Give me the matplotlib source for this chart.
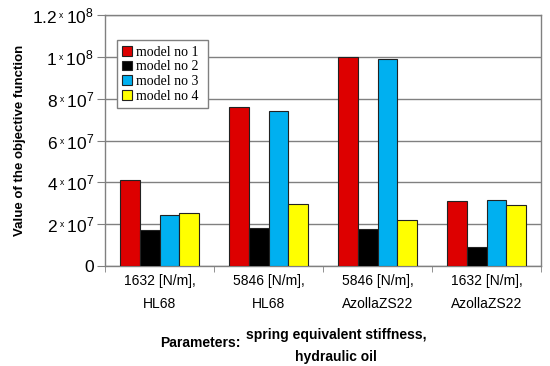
import numpy as np
import matplotlib
matplotlib.use("Agg")
import matplotlib.pyplot as plt

plt.rcParams['font.family'] = ['Liberation Sans', 'DejaVu Sans']
plt.rcParams['mathtext.fontset'] = 'custom'
plt.rcParams['mathtext.rm'] = 'Liberation Sans'
plt.rcParams['mathtext.it'] = 'Liberation Sans'

categories = ["1632 [N/m],\nHL68", "5846 [N/m],\nHL68",
              "5846 [N/m],\nAzollaZS22", "1632 [N/m],\nAzollaZS22"]
series_names = ["model no 1", "model no 2", "model no 3", "model no 4"]
model1 = [4.1e7, 7.6e7, 1.0e8, 3.1e7]
model2 = [1.7e7, 1.8e7, 1.75e7, 0.9e7]
model3 = [2.45e7, 7.4e7, 9.9e7, 3.15e7]
model4 = [2.55e7, 2.95e7, 2.2e7, 2.9e7]
yticks = [0, 2e7, 4e7, 6e7, 8e7, 1e8, 1.2e8]
ytick_labels = ["0",
                r"$\mathregular{2\,{}^{_{x}}\,10^{7}}$",
                r"$\mathregular{4\,{}^{_{x}}\,10^{7}}$",
                r"$\mathregular{6\,{}^{_{x}}\,10^{7}}$",
                r"$\mathregular{8\,{}^{_{x}}\,10^{7}}$",
                r"$\mathregular{1\,{}^{_{x}}\,10^{8}}$",
                r"$\mathregular{1.2\,{}^{_{x}}\,10^{8}}$"]
colors = ["#dd0000", "#000000", "#00b0f0", "#ffff00"]

fig = plt.figure(figsize=(5.5, 3.66), dpi=100)
ax = fig.add_axes([105/550, 1-266/366, 436/550, 251/366])

x = np.arange(len(categories))
w = 0.183
for i, vals in enumerate([model1, model2, model3, model4]):
    ax.bar(x + (i - 1.5) * w, vals, w, color=colors[i], edgecolor='#222222',
           linewidth=0.8, label=series_names[i] + " ", zorder=3)

ax.set_xlim(-0.5, 3.5)
ax.set_ylim(0, 1.2e8)
ax.set_yticks(yticks)
ax.set_yticklabels(ytick_labels, fontsize=12.5)
ax.set_xticks(x)
ax.set_xticklabels(categories, fontsize=10, linespacing=1.75)
ax.set_xticks(np.arange(-0.5, 4, 1), minor=True)
ax.tick_params(axis='x', which='major', length=0, pad=6)
ax.tick_params(axis='x', which='minor', length=4, color='#808080', direction='out')
ax.tick_params(axis='y', length=6, color='#808080', direction='out', pad=2)
ax.yaxis.grid(True, color='#808080', linewidth=1.0, zorder=0)
for s in ax.spines.values():
    s.set_color('#808080')
    s.set_linewidth(1.0)

ax.set_ylabel("Value of the objective function", fontsize=9.5, fontweight='bold')
ax.yaxis.set_label_coords(-0.181, 0.5)

leg = ax.legend(loc='upper left', bbox_to_anchor=(0.027, 0.9),
                prop={'family': 'Liberation Serif', 'size': 10},
                fancybox=False, framealpha=1, edgecolor='#808080',
                handlelength=0.7, handleheight=0.7, handletextpad=0.3,
                labelspacing=0.12, borderpad=0.4, borderaxespad=0)
leg.get_frame().set_linewidth(1.0)

fig.text(200/550, 1-343/366, "Parameters:", fontsize=10, fontweight='bold',
         ha='center', va='center')
fig.text(336/550, 1-346/366, "spring equivalent stiffness,\nhydraulic oil",
         fontsize=10, fontweight='bold', ha='center', va='center', linespacing=1.7)

fig.savefig("out.png", dpi=100)
